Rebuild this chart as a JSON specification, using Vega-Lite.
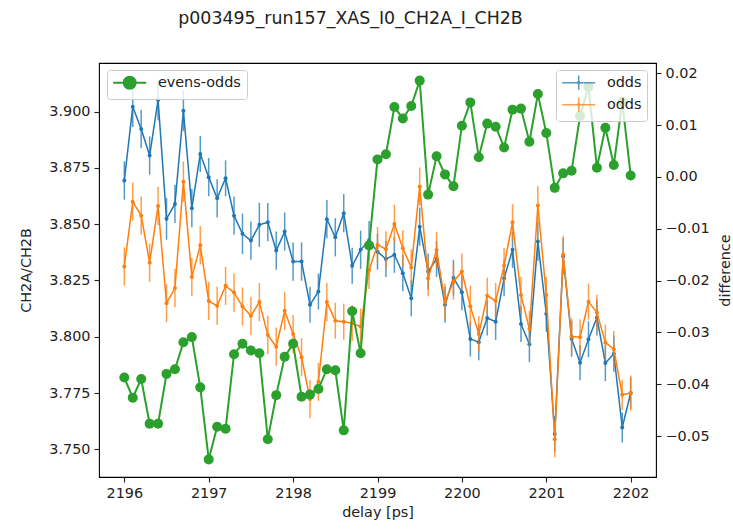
{
  "$schema": "https://vega.github.io/schema/vega-lite/v6.json",
  "width": 557,
  "height": 414,
  "autosize": {"type": "none"},
  "padding": {"left": 99, "top": 63, "right": 77, "bottom": 55},
  "background": "white",
  "title": {
    "text": "p003495_run157_XAS_I0_CH2A_I_CH2B",
    "font": "DejaVu Sans",
    "fontSize": 17.4,
    "fontWeight": "normal",
    "color": "#222222",
    "anchor": "middle",
    "frame": "group",
    "baseline": "alphabetic",
    "offset": 22,
    "dx": -27
  },
  "config": {
    "view": {"stroke": "#000000", "strokeWidth": 1.1},
    "axis": {
      "labelFont": "DejaVu Sans",
      "labelFontSize": 14.4,
      "labelColor": "#222222",
      "titleFont": "DejaVu Sans",
      "titleFontSize": 14.4,
      "titleFontWeight": "normal",
      "titleColor": "#222222",
      "tickColor": "#222222",
      "tickSize": 5,
      "tickWidth": 1.1,
      "labelPadding": 4,
      "domain": false,
      "grid": false
    },
    "legend": {
      "orient": "none",
      "labelFont": "DejaVu Sans",
      "labelFontSize": 14.4,
      "labelColor": "#222222",
      "padding": 5.5,
      "rowPadding": 1,
      "fillColor": "rgba(255,255,255,0.8)",
      "strokeColor": "#cccccc",
      "cornerRadius": 3,
      "symbolSize": 121,
      "symbolOffset": 10,
      "labelOffset": 21
    }
  },
  "datasets": {
    "ratio": [
      {"series": "odds", "delay": 2196.0, "value": 3.8694, "err": 0.0085},
      {"series": "odds", "delay": 2196.1, "value": 3.9022, "err": 0.009},
      {"series": "odds", "delay": 2196.2, "value": 3.8923, "err": 0.0085},
      {"series": "odds", "delay": 2196.3, "value": 3.8805, "err": 0.0085},
      {"series": "odds", "delay": 2196.4, "value": 3.9052, "err": 0.009},
      {"series": "odds", "delay": 2196.5, "value": 3.8524, "err": 0.0093},
      {"series": "odds", "delay": 2196.6, "value": 3.859, "err": 0.0085},
      {"series": "odds", "delay": 2196.7, "value": 3.9004, "err": 0.009},
      {"series": "odds", "delay": 2196.8, "value": 3.8571, "err": 0.0085},
      {"series": "odds", "delay": 2196.9, "value": 3.8812, "err": 0.008},
      {"series": "odds", "delay": 2197.0, "value": 3.8709, "err": 0.0085},
      {"series": "odds", "delay": 2197.1, "value": 3.8615, "err": 0.0085},
      {"series": "odds", "delay": 2197.2, "value": 3.8704, "err": 0.008},
      {"series": "odds", "delay": 2197.3, "value": 3.8538, "err": 0.0085},
      {"series": "odds", "delay": 2197.4, "value": 3.8457, "err": 0.009},
      {"series": "odds", "delay": 2197.5, "value": 3.8427, "err": 0.0085},
      {"series": "odds", "delay": 2197.6, "value": 3.8497, "err": 0.0098},
      {"series": "odds", "delay": 2197.7, "value": 3.8509, "err": 0.0085},
      {"series": "odds", "delay": 2197.8, "value": 3.8383, "err": 0.0085},
      {"series": "odds", "delay": 2197.9, "value": 3.8467, "err": 0.0085},
      {"series": "odds", "delay": 2198.0, "value": 3.8334, "err": 0.0085},
      {"series": "odds", "delay": 2198.1, "value": 3.8334, "err": 0.0085},
      {"series": "odds", "delay": 2198.2, "value": 3.8142, "err": 0.008},
      {"series": "odds", "delay": 2198.3, "value": 3.8201, "err": 0.008},
      {"series": "odds", "delay": 2198.4, "value": 3.8522, "err": 0.0085},
      {"series": "odds", "delay": 2198.5, "value": 3.8442, "err": 0.0085},
      {"series": "odds", "delay": 2198.6, "value": 3.8549, "err": 0.0085},
      {"series": "odds", "delay": 2198.7, "value": 3.8315, "err": 0.008},
      {"series": "odds", "delay": 2198.8, "value": 3.8386, "err": 0.0085},
      {"series": "odds", "delay": 2198.9, "value": 3.8429, "err": 0.0085},
      {"series": "odds", "delay": 2199.0, "value": 3.8378, "err": 0.008},
      {"series": "odds", "delay": 2199.1, "value": 3.8345, "err": 0.008},
      {"series": "odds", "delay": 2199.2, "value": 3.8364, "err": 0.008},
      {"series": "odds", "delay": 2199.3, "value": 3.8282, "err": 0.008},
      {"series": "odds", "delay": 2199.4, "value": 3.8171, "err": 0.008},
      {"series": "odds", "delay": 2199.5, "value": 3.8489, "err": 0.0085},
      {"series": "odds", "delay": 2199.6, "value": 3.829, "err": 0.008},
      {"series": "odds", "delay": 2199.7, "value": 3.8345, "err": 0.008},
      {"series": "odds", "delay": 2199.8, "value": 3.8142, "err": 0.008},
      {"series": "odds", "delay": 2199.9, "value": 3.8262, "err": 0.008},
      {"series": "odds", "delay": 2200.0, "value": 3.8198, "err": 0.008},
      {"series": "odds", "delay": 2200.1, "value": 3.799, "err": 0.0078},
      {"series": "odds", "delay": 2200.2, "value": 3.7976, "err": 0.008},
      {"series": "odds", "delay": 2200.3, "value": 3.8083, "err": 0.0078},
      {"series": "odds", "delay": 2200.4, "value": 3.8067, "err": 0.0081},
      {"series": "odds", "delay": 2200.5, "value": 3.826, "err": 0.008},
      {"series": "odds", "delay": 2200.6, "value": 3.8386, "err": 0.008},
      {"series": "odds", "delay": 2200.7, "value": 3.8057, "err": 0.008},
      {"series": "odds", "delay": 2200.8, "value": 3.7967, "err": 0.008},
      {"series": "odds", "delay": 2200.9, "value": 3.8423, "err": 0.0085},
      {"series": "odds", "delay": 2201.0, "value": 3.8102, "err": 0.008},
      {"series": "odds", "delay": 2201.1, "value": 3.7568, "err": 0.008},
      {"series": "odds", "delay": 2201.2, "value": 3.8357, "err": 0.008},
      {"series": "odds", "delay": 2201.3, "value": 3.7991, "err": 0.008},
      {"series": "odds", "delay": 2201.4, "value": 3.7885, "err": 0.0078},
      {"series": "odds", "delay": 2201.5, "value": 3.7989, "err": 0.008},
      {"series": "odds", "delay": 2201.6, "value": 3.8085, "err": 0.008},
      {"series": "odds", "delay": 2201.7, "value": 3.7883, "err": 0.008},
      {"series": "odds", "delay": 2201.8, "value": 3.7924, "err": 0.008},
      {"series": "odds", "delay": 2201.9, "value": 3.7597, "err": 0.0067},
      {"series": "odds", "delay": 2202.0, "value": 3.775, "err": 0.007},
      {"series": "evens", "delay": 2196.0, "value": 3.8312, "err": 0.0085},
      {"series": "evens", "delay": 2196.1, "value": 3.86, "err": 0.0085},
      {"series": "evens", "delay": 2196.2, "value": 3.8538, "err": 0.0085},
      {"series": "evens", "delay": 2196.3, "value": 3.8329, "err": 0.0085},
      {"series": "evens", "delay": 2196.4, "value": 3.8581, "err": 0.0085},
      {"series": "evens", "delay": 2196.5, "value": 3.8149, "err": 0.0085},
      {"series": "evens", "delay": 2196.6, "value": 3.8216, "err": 0.0085},
      {"series": "evens", "delay": 2196.7, "value": 3.8689, "err": 0.009},
      {"series": "evens", "delay": 2196.8, "value": 3.8265, "err": 0.0085},
      {"series": "evens", "delay": 2196.9, "value": 3.8406, "err": 0.0085},
      {"series": "evens", "delay": 2197.0, "value": 3.8159, "err": 0.0085},
      {"series": "evens", "delay": 2197.1, "value": 3.8137, "err": 0.0085},
      {"series": "evens", "delay": 2197.2, "value": 3.8226, "err": 0.0085},
      {"series": "evens", "delay": 2197.3, "value": 3.8196, "err": 0.0085},
      {"series": "evens", "delay": 2197.4, "value": 3.8134, "err": 0.0085},
      {"series": "evens", "delay": 2197.5, "value": 3.8093, "err": 0.0085},
      {"series": "evens", "delay": 2197.6, "value": 3.8154, "err": 0.0085},
      {"series": "evens", "delay": 2197.7, "value": 3.8008, "err": 0.0085},
      {"series": "evens", "delay": 2197.8, "value": 3.7956, "err": 0.0085},
      {"series": "evens", "delay": 2197.9, "value": 3.8115, "err": 0.0085},
      {"series": "evens", "delay": 2198.0, "value": 3.8012, "err": 0.0085},
      {"series": "evens", "delay": 2198.1, "value": 3.7909, "err": 0.0085},
      {"series": "evens", "delay": 2198.2, "value": 3.7723, "err": 0.0085},
      {"series": "evens", "delay": 2198.3, "value": 3.78, "err": 0.0085},
      {"series": "evens", "delay": 2198.4, "value": 3.8154, "err": 0.0085},
      {"series": "evens", "delay": 2198.5, "value": 3.8071, "err": 0.008},
      {"series": "evens", "delay": 2198.6, "value": 3.8067, "err": 0.008},
      {"series": "evens", "delay": 2198.7, "value": 3.806, "err": 0.008},
      {"series": "evens", "delay": 2198.8, "value": 3.8045, "err": 0.008},
      {"series": "evens", "delay": 2198.9, "value": 3.8297, "err": 0.0085},
      {"series": "evens", "delay": 2199.0, "value": 3.8408, "err": 0.008},
      {"series": "evens", "delay": 2199.1, "value": 3.8389, "err": 0.008},
      {"series": "evens", "delay": 2199.2, "value": 3.8501, "err": 0.0085},
      {"series": "evens", "delay": 2199.3, "value": 3.8393, "err": 0.008},
      {"series": "evens", "delay": 2199.4, "value": 3.8308, "err": 0.008},
      {"series": "evens", "delay": 2199.5, "value": 3.8667, "err": 0.0085},
      {"series": "evens", "delay": 2199.6, "value": 3.826, "err": 0.008},
      {"series": "evens", "delay": 2199.7, "value": 3.8385, "err": 0.008},
      {"series": "evens", "delay": 2199.8, "value": 3.8156, "err": 0.008},
      {"series": "evens", "delay": 2199.9, "value": 3.8244, "err": 0.008},
      {"series": "evens", "delay": 2200.0, "value": 3.829, "err": 0.008},
      {"series": "evens", "delay": 2200.1, "value": 3.8135, "err": 0.0092},
      {"series": "evens", "delay": 2200.2, "value": 3.8012, "err": 0.008},
      {"series": "evens", "delay": 2200.3, "value": 3.8182, "err": 0.008},
      {"series": "evens", "delay": 2200.4, "value": 3.8159, "err": 0.008},
      {"series": "evens", "delay": 2200.5, "value": 3.8315, "err": 0.008},
      {"series": "evens", "delay": 2200.6, "value": 3.8509, "err": 0.008},
      {"series": "evens", "delay": 2200.7, "value": 3.8186, "err": 0.008},
      {"series": "evens", "delay": 2200.8, "value": 3.8034, "err": 0.008},
      {"series": "evens", "delay": 2200.9, "value": 3.8583, "err": 0.0085},
      {"series": "evens", "delay": 2201.0, "value": 3.8186, "err": 0.008},
      {"series": "evens", "delay": 2201.1, "value": 3.7545, "err": 0.008},
      {"series": "evens", "delay": 2201.2, "value": 3.8364, "err": 0.0085},
      {"series": "evens", "delay": 2201.3, "value": 3.8001, "err": 0.008},
      {"series": "evens", "delay": 2201.4, "value": 3.7998, "err": 0.008},
      {"series": "evens", "delay": 2201.5, "value": 3.8156, "err": 0.008},
      {"series": "evens", "delay": 2201.6, "value": 3.8107, "err": 0.008},
      {"series": "evens", "delay": 2201.7, "value": 3.7974, "err": 0.008},
      {"series": "evens", "delay": 2201.8, "value": 3.7945, "err": 0.008},
      {"series": "evens", "delay": 2201.9, "value": 3.7742, "err": 0.0067},
      {"series": "evens", "delay": 2202.0, "value": 3.775, "err": 0.0078}
    ],
    "diff": [
      {"series": "evens-odds", "delay": 2196.0, "diff": -0.0387},
      {"series": "evens-odds", "delay": 2196.1, "diff": -0.0426},
      {"series": "evens-odds", "delay": 2196.2, "diff": -0.039},
      {"series": "evens-odds", "delay": 2196.3, "diff": -0.0476},
      {"series": "evens-odds", "delay": 2196.4, "diff": -0.0476},
      {"series": "evens-odds", "delay": 2196.5, "diff": -0.038},
      {"series": "evens-odds", "delay": 2196.6, "diff": -0.0371},
      {"series": "evens-odds", "delay": 2196.7, "diff": -0.0319},
      {"series": "evens-odds", "delay": 2196.8, "diff": -0.0309},
      {"series": "evens-odds", "delay": 2196.9, "diff": -0.0406},
      {"series": "evens-odds", "delay": 2197.0, "diff": -0.0545},
      {"series": "evens-odds", "delay": 2197.1, "diff": -0.0482},
      {"series": "evens-odds", "delay": 2197.2, "diff": -0.0486},
      {"series": "evens-odds", "delay": 2197.3, "diff": -0.0342},
      {"series": "evens-odds", "delay": 2197.4, "diff": -0.0322},
      {"series": "evens-odds", "delay": 2197.5, "diff": -0.0335},
      {"series": "evens-odds", "delay": 2197.6, "diff": -0.034},
      {"series": "evens-odds", "delay": 2197.7, "diff": -0.0506},
      {"series": "evens-odds", "delay": 2197.8, "diff": -0.0421},
      {"series": "evens-odds", "delay": 2197.9, "diff": -0.0347},
      {"series": "evens-odds", "delay": 2198.0, "diff": -0.0322},
      {"series": "evens-odds", "delay": 2198.1, "diff": -0.0424},
      {"series": "evens-odds", "delay": 2198.2, "diff": -0.042},
      {"series": "evens-odds", "delay": 2198.3, "diff": -0.0409},
      {"series": "evens-odds", "delay": 2198.4, "diff": -0.0371},
      {"series": "evens-odds", "delay": 2198.5, "diff": -0.0373},
      {"series": "evens-odds", "delay": 2198.6, "diff": -0.0489},
      {"series": "evens-odds", "delay": 2198.7, "diff": -0.0259},
      {"series": "evens-odds", "delay": 2198.8, "diff": -0.034},
      {"series": "evens-odds", "delay": 2198.9, "diff": -0.0132},
      {"series": "evens-odds", "delay": 2199.0, "diff": 0.0034},
      {"series": "evens-odds", "delay": 2199.1, "diff": 0.0044},
      {"series": "evens-odds", "delay": 2199.2, "diff": 0.0135},
      {"series": "evens-odds", "delay": 2199.3, "diff": 0.0113},
      {"series": "evens-odds", "delay": 2199.4, "diff": 0.0137},
      {"series": "evens-odds", "delay": 2199.5, "diff": 0.0186},
      {"series": "evens-odds", "delay": 2199.6, "diff": -0.0034},
      {"series": "evens-odds", "delay": 2199.7, "diff": 0.004},
      {"series": "evens-odds", "delay": 2199.8, "diff": 0.0005},
      {"series": "evens-odds", "delay": 2199.9, "diff": -0.0018},
      {"series": "evens-odds", "delay": 2200.0, "diff": 0.0099},
      {"series": "evens-odds", "delay": 2200.1, "diff": 0.0144},
      {"series": "evens-odds", "delay": 2200.2, "diff": 0.0038},
      {"series": "evens-odds", "delay": 2200.3, "diff": 0.0103},
      {"series": "evens-odds", "delay": 2200.4, "diff": 0.0097},
      {"series": "evens-odds", "delay": 2200.5, "diff": 0.0057},
      {"series": "evens-odds", "delay": 2200.6, "diff": 0.013},
      {"series": "evens-odds", "delay": 2200.7, "diff": 0.0132},
      {"series": "evens-odds", "delay": 2200.8, "diff": 0.0068},
      {"series": "evens-odds", "delay": 2200.9, "diff": 0.016},
      {"series": "evens-odds", "delay": 2201.0, "diff": 0.0085},
      {"series": "evens-odds", "delay": 2201.1, "diff": -0.0021},
      {"series": "evens-odds", "delay": 2201.2, "diff": 0.0007},
      {"series": "evens-odds", "delay": 2201.3, "diff": 0.0012},
      {"series": "evens-odds", "delay": 2201.4, "diff": 0.0118},
      {"series": "evens-odds", "delay": 2201.5, "diff": 0.0174},
      {"series": "evens-odds", "delay": 2201.6, "diff": 0.0018},
      {"series": "evens-odds", "delay": 2201.7, "diff": 0.0095},
      {"series": "evens-odds", "delay": 2201.8, "diff": 0.0023},
      {"series": "evens-odds", "delay": 2201.9, "diff": 0.0145},
      {"series": "evens-odds", "delay": 2202.0, "diff": 0.0003}
    ]
  },
  "encoding": {
    "x": {
      "field": "delay",
      "type": "quantitative",
      "scale": {"domain": [2195.7, 2202.3], "nice": false, "zero": false},
      "axis": {
        "values": [2196, 2197, 2198, 2199, 2200, 2201, 2202],
        "format": "d",
        "title": "delay [ps]",
        "titlePadding": 6,
        "labelFlush": false
      }
    }
  },
  "layer": [
    {
      "data": {"name": "ratio"},
      "encoding": {
        "y": {
          "field": "value",
          "type": "quantitative",
          "scale": {"domain": [3.7377, 3.9216], "nice": false, "zero": false},
          "axis": {
            "values": [3.75, 3.775, 3.8, 3.825, 3.85, 3.875, 3.9],
            "format": ".3f",
            "title": "CH2A/CH2B",
            "titlePadding": 15
          }
        },
        "color": {
          "field": "series",
          "type": "nominal",
          "scale": {"domain": ["odds", "evens"], "range": ["#1f77b4", "#ff7f0e"]},
          "legend": {
            "title": null,
            "legendX": 457,
            "legendY": 7,
            "labelExpr": "'odds'",
            "symbolType": "M-3,0H3M0,-1.3V1.3M0.2,0A0.2,0.2 0 1 1 -0.2,0A0.2,0.2 0 1 1 0.2,0",
            "symbolStrokeWidth": 1.5
          }
        }
      },
      "layer": [
        {
          "transform": [{"filter": "datum.series === 'odds'"}],
          "layer": [
            {"mark": {"type": "errorbar", "thickness": 1.5, "opacity": 0.75}, "encoding": {"yError": {"field": "err"}}},
            {"mark": {"type": "line", "strokeWidth": 1.5}},
            {"mark": {"type": "point", "filled": true, "size": 16, "opacity": 1}}
          ]
        },
        {
          "transform": [{"filter": "datum.series === 'evens'"}],
          "layer": [
            {"mark": {"type": "errorbar", "thickness": 1.5, "opacity": 0.75}, "encoding": {"yError": {"field": "err"}}},
            {"mark": {"type": "line", "strokeWidth": 1.5}},
            {"mark": {"type": "point", "filled": true, "size": 16, "opacity": 1}}
          ]
        }
      ]
    },
    {
      "data": {"name": "diff"},
      "encoding": {
        "y": {
          "field": "diff",
          "type": "quantitative",
          "scale": {"domain": [-0.0579, 0.022], "nice": false, "zero": false},
          "axis": {
            "orient": "right",
            "values": [-0.05, -0.04, -0.03, -0.02, -0.01, 0, 0.01, 0.02],
            "format": ".2f",
            "title": "difference",
            "titleAngle": 270,
            "titlePadding": 23
          }
        },
        "color": {
          "field": "series",
          "type": "nominal",
          "scale": {"domain": ["evens-odds"], "range": ["#2ca02c"]},
          "legend": {
            "title": null,
            "legendX": 8,
            "legendY": 7,
            "symbolType": "M-3,0H3M1.1,0A1.1,1.1 0 1 1 -1.1,0A1.1,1.1 0 1 1 1.1,0",
            "symbolStrokeWidth": 2,
            "symbolFillColor": "#2ca02c",
            "symbolStrokeColor": "#2ca02c"
          }
        }
      },
      "layer": [
        {"mark": {"type": "line", "strokeWidth": 2}},
        {"mark": {"type": "point", "filled": true, "size": 100, "opacity": 1}}
      ]
    }
  ],
  "resolve": {"scale": {"y": "independent", "color": "independent"}}
}
